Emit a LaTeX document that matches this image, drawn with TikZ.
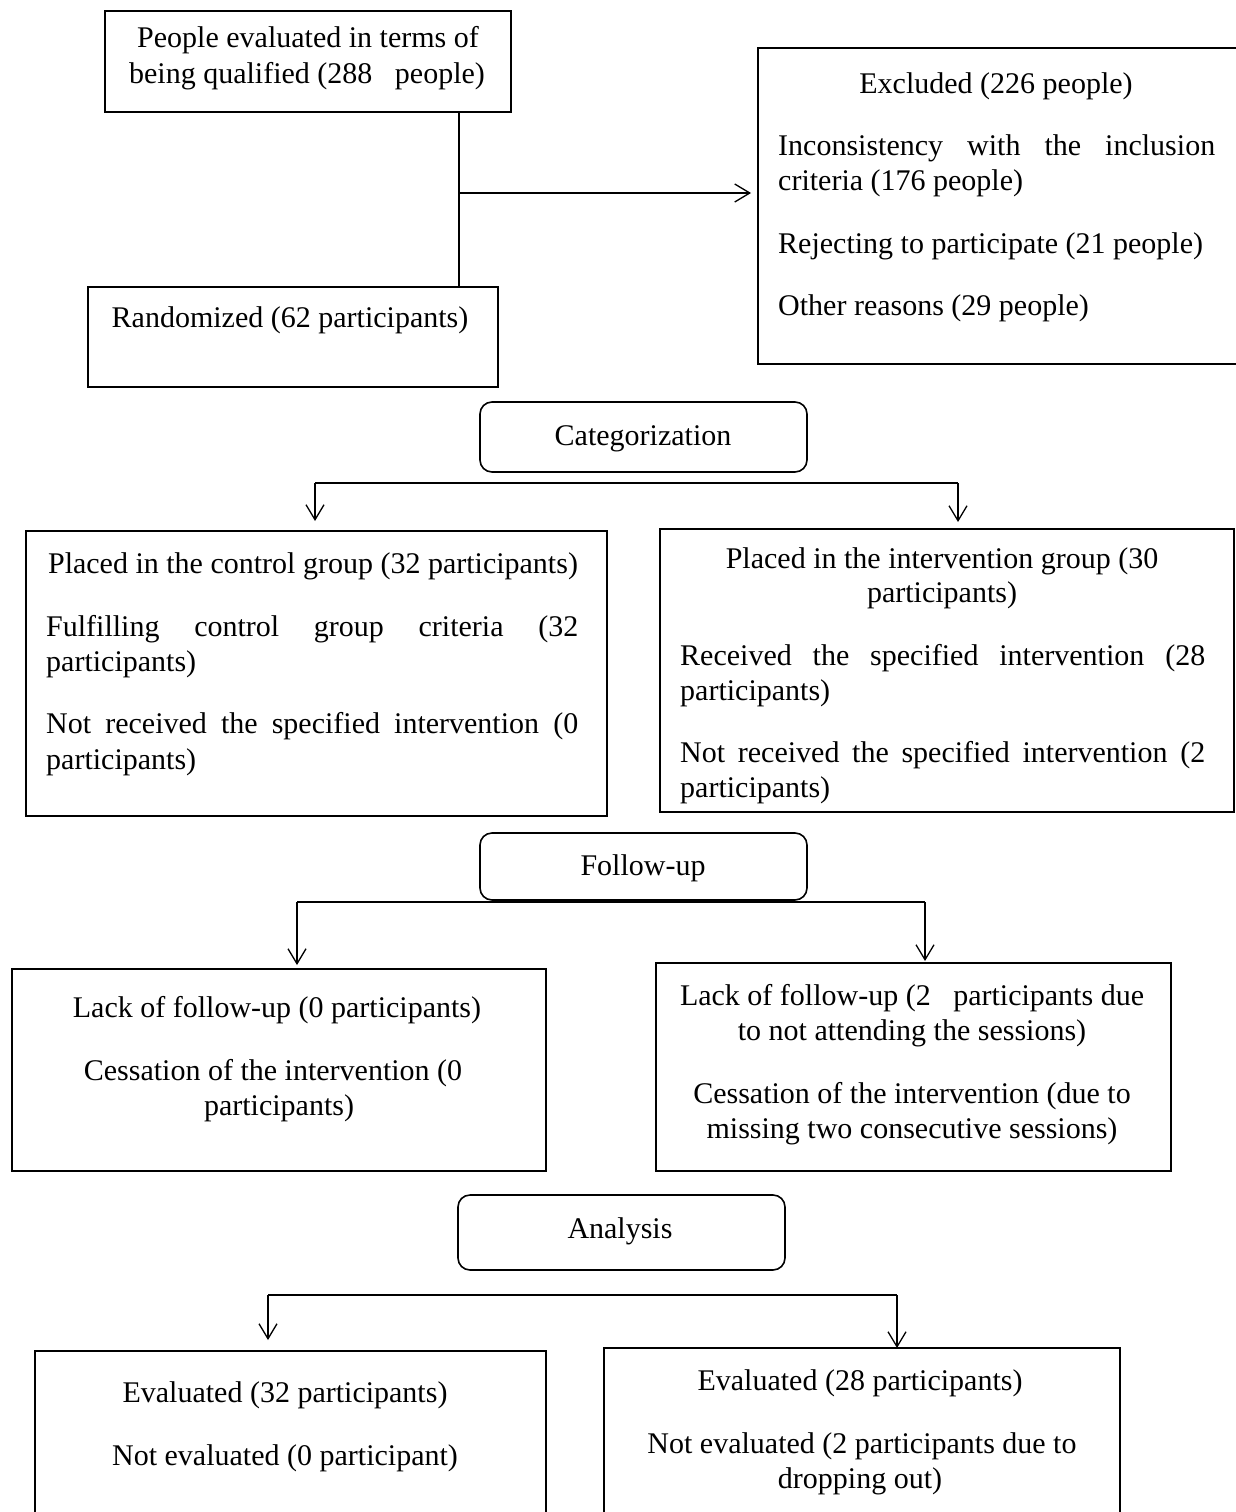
\documentclass[tikz,border=0pt]{standalone}
\usepackage{fontspec}
\setmainfont{Liberation Serif}
\usetikzlibrary{arrows.meta}
\begin{document}
\begin{tikzpicture}[x=1pt,y=-1pt,
  box/.style={draw, line width=1.6pt, anchor=north west, inner sep=0, outer sep=0},
  rbox/.style={box, rounded corners=12pt},
  txt/.style={font=\fontsize{30}{35}\selectfont, inner sep=0, anchor=base},
  ltxt/.style={txt, anchor=base west},
  conn/.style={line width=1.4pt},
  arr/.style={conn, -{Straight Barb[length=15pt,width=18pt,line width=1.3pt]}}]
\useasboundingbox (0,0) rectangle (1235,1512);
% boxes
\node[box, minimum width=406, minimum height=101] (p1) at (105,11) {};
\node[box, minimum width=410, minimum height=100] (rand) at (88,287) {};
\node[box, minimum width=490, minimum height=316] (excl) at (758,48) {};
\node[rbox, minimum width=327, minimum height=70] (cat) at (480,402) {};
\node[box, minimum width=581, minimum height=285] (ctrl) at (26,531) {};
\node[box, minimum width=574, minimum height=283] (intv) at (660,529) {};
\node[rbox, minimum width=327, minimum height=67] (fol) at (480,833) {};
\node[box, minimum width=534, minimum height=202] (fl) at (12,969) {};
\node[box, minimum width=515, minimum height=208] (fr) at (656,963) {};
\node[rbox, minimum width=327, minimum height=75] (ana) at (458,1195) {};
\node[box, minimum width=511, minimum height=180] (al) at (35,1351) {};
\node[box, minimum width=516, minimum height=183] (ar) at (604,1348) {};
% texts
\node[txt] (t1) at (308,48) {People evaluated in terms of};
\node[txt] (t2) at (307,83) {being qualified (288\ \ \ people)};
\node[txt] (t3) at (290,327) {Randomized (62 participants)};
\node[txt] (t4) at (996,93) {Excluded (226 people)};
\node[ltxt] (t5) at (778,155) {\makebox[437pt][s]{Inconsistency with the inclusion}};
\node[ltxt] (t6) at (778,190) {criteria (176 people)};
\node[ltxt] (t7) at (778,253) {Rejecting to participate (21 people)};
\node[ltxt] (t8) at (778,315) {Other reasons (29 people)};
\node[txt] (t9) at (643,445) {Categorization};
\node[txt] (t10) at (313,573) {Placed in the control group (32 participants)};
\node[ltxt] (t11) at (46,636) {\makebox[532pt][s]{Fulfilling control group criteria (32}};
\node[ltxt] (t12) at (46,671) {participants)};
\node[ltxt] (t13) at (46,733) {\makebox[532pt][s]{Not received the specified intervention (0}};
\node[ltxt] (t14) at (46,769) {participants)};
\node[txt] (t15) at (942,568) {Placed in the intervention group (30};
\node[txt] (t16) at (942,602) {participants)};
\node[ltxt] (t17) at (680,665) {\makebox[525pt][s]{Received the specified intervention (28}};
\node[ltxt] (t18) at (680,700) {participants)};
\node[ltxt] (t19) at (680,762) {\makebox[525pt][s]{Not received the specified intervention (2}};
\node[ltxt] (t20) at (680,797) {participants)};
\node[txt] (t21) at (643,875) {Follow-up};
\node[txt] (t22) at (277,1017) {Lack of follow-up (0 participants)};
\node[txt] (t23) at (273,1080) {Cessation of the intervention (0};
\node[txt] (t24) at (279,1115) {participants)};
\node[txt] (t25) at (912,1005) {Lack of follow-up (2\ \ \ participants due};
\node[txt] (t26) at (912,1040) {to not attending the sessions)};
\node[txt] (t27) at (912,1103) {Cessation of the intervention (due to};
\node[txt] (t28) at (912,1138) {missing two consecutive sessions)};
\node[txt] (t29) at (620,1238) {Analysis};
\node[txt] (t30) at (285,1402) {Evaluated (32 participants)};
\node[txt] (t31) at (285,1465) {Not evaluated (0 participant)};
\node[txt] (t32) at (860,1390) {Evaluated (28 participants)};
\node[txt] (t33) at (862,1453) {Not evaluated (2 participants due to};
\node[txt] (t34) at (860,1488) {dropping out)};
% connectors
\coordinate (j1) at (459,193);
\draw[conn] (j1 |- p1.south) -- (j1 |- rand.north);
\draw[arr, shorten >=7pt] (j1) -- (excl.west |- j1);
\coordinate (c1) at (315,483);
\coordinate (c2) at (958,483);
\draw[conn] (c1) -- (c2);
\draw[arr, shorten >=10pt] (c1) -- (c1 |- ctrl.north);
\draw[arr, shorten >=7pt] (c2) -- (c2 |- intv.north);
\coordinate (f1) at (297,902);
\coordinate (f2) at (925,902);
\draw[conn] (f1) -- (f2);
\draw[arr, shorten >=4pt] (f1) -- (f1 |- fl.north);
\draw[arr, shorten >=2pt] (f2) -- (f2 |- fr.north);
\coordinate (a1) at (268,1295);
\coordinate (a2) at (897,1295);
\draw[conn] (a1) -- (a2);
\draw[arr, shorten >=11pt] (a1) -- (a1 |- al.north);
\draw[arr] (a2) -- (a2 |- ar.north);
\end{tikzpicture}
\end{document}
